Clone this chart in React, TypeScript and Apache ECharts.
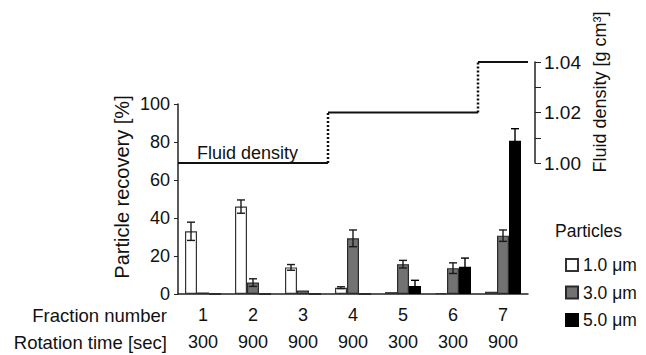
import React, { useEffect, useRef } from "react";
import * as echarts from "echarts";

const fractions = ["1", "2", "3", "4", "5", "6", "7"];
const rotationTimes = ["300", "900", "900", "900", "300", "300", "900"];
const fluidDensity = [1.0, 1.0, 1.0, 1.02, 1.02, 1.02, 1.04];
const sizeNames = ["1.0 μm", "3.0 μm", "5.0 μm"];
const rec1 = [33, 46, 14, 3.3, 1, 0.5, 1.2];
const err1 = [4.8, 3.5, 1.5, 0.5, 0, 0, 0];
const rec3 = [0.8, 6, 1.8, 29.3, 15.7, 13.6, 30.7];
const err3 = [0, 2, 0, 4.4, 2, 2.8, 3];
const rec5 = [0, 0, 0, 0, 4.2, 14.3, 80.6];
const err5 = [0, 0, 0, 0, 3, 4.6, 6.4];

const FONT = "'Liberation Sans', Arial, sans-serif";
const BAR_W = 12;

export default function App() {
  const ref = useRef<HTMLDivElement>(null);
  useEffect(() => {
    if (!ref.current) return;
    const chart = echarts.init(ref.current, null, { renderer: "svg" });
    const values = [rec1, rec3, rec5];
    const errs = [err1, err3, err5];
    const fills = ["#ffffff", "#727272", "#000000"];
    const borders = ["#333333", "#2a2a2a", "#000000"];

    const barSeries = values.map((vals, k) => ({
      name: sizeNames[k],
      type: "bar",
      xAxisIndex: 0,
      yAxisIndex: 0,
      data: vals,
      barWidth: BAR_W,
      barGap: "0%",
      itemStyle: { color: fills[k], borderColor: borders[k], borderWidth: 1.2 },
      z: 2,
    }));

    const errSeries = values.map((vals, k) => ({
      type: "custom",
      xAxisIndex: 0,
      yAxisIndex: 0,
      z: 5,
      silent: true,
      data: vals.map((v, i) => [i, v, errs[k][i]]),
      renderItem: (params: any, api: any) => {
        const i = api.value(0);
        const v = api.value(1);
        const e = api.value(2);
        if (!e) return { type: "group", children: [] };
        const c = api.coord([i, v]);
        const x = c[0] + (k - 1) * BAR_W;
        const yt = api.coord([i, v + e])[1];
        const yb = api.coord([i, Math.max(0, v - e)])[1];
        const col = k === 2 ? "#000" : "#1a1a1a";
        const st = { stroke: col, lineWidth: 1.4 };
        return {
          type: "group",
          children: [
            { type: "line", shape: { x1: x, y1: yt, x2: x, y2: yb }, style: st },
            { type: "line", shape: { x1: x - 4, y1: yt, x2: x + 4, y2: yt }, style: st },
            { type: "line", shape: { x1: x - 4, y1: yb, x2: x + 4, y2: yb }, style: st },
          ],
        };
      },
    }));

    const densitySeries = {
      type: "custom",
      xAxisIndex: 1,
      yAxisIndex: 1,
      silent: true,
      data: fluidDensity.map((d, i) => [i, d]),
      renderItem: (params: any, api: any) => {
        const i = api.value(0);
        const d = api.value(1);
        const c = api.coord([i, d]);
        const band = api.size([1, 0])[0];
        const x0 = c[0] - band / 2;
        const x1 = c[0] + band / 2;
        const children: any[] = [
          { type: "line", shape: { x1: x0, y1: c[1], x2: x1, y2: c[1] }, style: { stroke: "#111", lineWidth: 2 } },
        ];
        if (i > 0 && fluidDensity[i - 1] !== d) {
          const yp = api.coord([i, fluidDensity[i - 1]])[1];
          children.push({
            type: "line",
            shape: { x1: x0, y1: yp, x2: x0, y2: c[1] },
            style: { stroke: "#111", lineWidth: 2.5, lineDash: [2, 2] },
          });
        }
        return { type: "group", children };
      },
    };

    chart.setOption({
      animation: false,
      textStyle: { fontFamily: FONT },
      grid: [
        { left: 178, top: 104, width: 350, height: 190 },
        { left: 178, top: 62, width: 350, height: 101 },
      ],
      xAxis: [
        {
          type: "category",
          gridIndex: 0,
          data: fractions.map((f, i) => `${f}\n${rotationTimes[i]}`),
          axisLine: { lineStyle: { color: "#222", width: 1.5 } },
          axisTick: { inside: true, length: 4, lineStyle: { color: "#222" } },
          axisLabel: { color: "#111", fontSize: 18, lineHeight: 27, margin: 7, fontFamily: FONT },
        },
        {
          type: "category",
          gridIndex: 1,
          data: fractions,
          show: false,
        },
      ],
      yAxis: [
        {
          type: "value",
          gridIndex: 0,
          min: 0,
          max: 100,
          interval: 20,
          splitLine: { show: false },
          axisLine: { show: true, lineStyle: { color: "#222", width: 1.5 } },
          axisTick: { show: true, length: 4, lineStyle: { color: "#222" } },
          axisLabel: { color: "#111", fontSize: 18, margin: 8, fontFamily: FONT },
        },
        {
          type: "value",
          gridIndex: 1,
          position: "right",
          offset: 7,
          min: 1.0,
          max: 1.04,
          interval: 0.01,
          splitLine: { show: false },
          axisLine: { show: true, lineStyle: { color: "#222", width: 1.5 } },
          axisTick: { show: true, length: 6, lineStyle: { color: "#222" } },
          axisLabel: {
            color: "#111",
            fontSize: 19,
            margin: 9,
            fontFamily: FONT,
            formatter: (v: number) => (Math.round(v * 100) % 2 === 0 ? v.toFixed(2) : ""),
          },
        },
      ],
      legend: {
        data: sizeNames,
        orient: "vertical",
        left: 560,
        top: 251,
        itemWidth: 12,
        itemHeight: 12,
        itemGap: 9.5,
        icon: "rect",
        textStyle: { fontSize: 17.5, color: "#111", fontFamily: FONT },
      },
      graphic: [
        {
          type: "text",
          x: 555,
          y: 231,
          style: { text: "Particles", fontSize: 17.5, fill: "#111", fontFamily: FONT, verticalAlign: "middle" },
        },
        {
          type: "text",
          x: 197,
          y: 153,
          style: { text: "Fluid density", fontSize: 18, fill: "#111", fontFamily: FONT, verticalAlign: "middle" },
        },
        {
          type: "text",
          x: 167,
          y: 315,
          style: { text: "Fraction number", fontSize: 18.5, fill: "#111", fontFamily: FONT, align: "right", verticalAlign: "middle" },
        },
        {
          type: "text",
          x: 167,
          y: 342,
          style: { text: "Rotation time [sec]", fontSize: 18.5, fill: "#111", fontFamily: FONT, align: "right", verticalAlign: "middle" },
        },
        {
          type: "text",
          x: 122,
          y: 187,
          rotation: Math.PI / 2,
          style: { text: "Particle recovery [%]", fontSize: 20, fill: "#111", fontFamily: FONT, align: "center", verticalAlign: "middle" },
        },
        {
          type: "text",
          x: 600,
          y: 92,
          rotation: Math.PI / 2,
          style: { text: "Fluid density [g cm³]", fontSize: 18, fill: "#111", fontFamily: FONT, align: "center", verticalAlign: "middle" },
        },
      ],
      series: [...barSeries, ...errSeries, densitySeries],
    });
    return () => chart.dispose();
  }, []);
  return <div ref={ref} style={{ width: 646, height: 355, position: "absolute", left: 0, top: 0 }} />;
}
